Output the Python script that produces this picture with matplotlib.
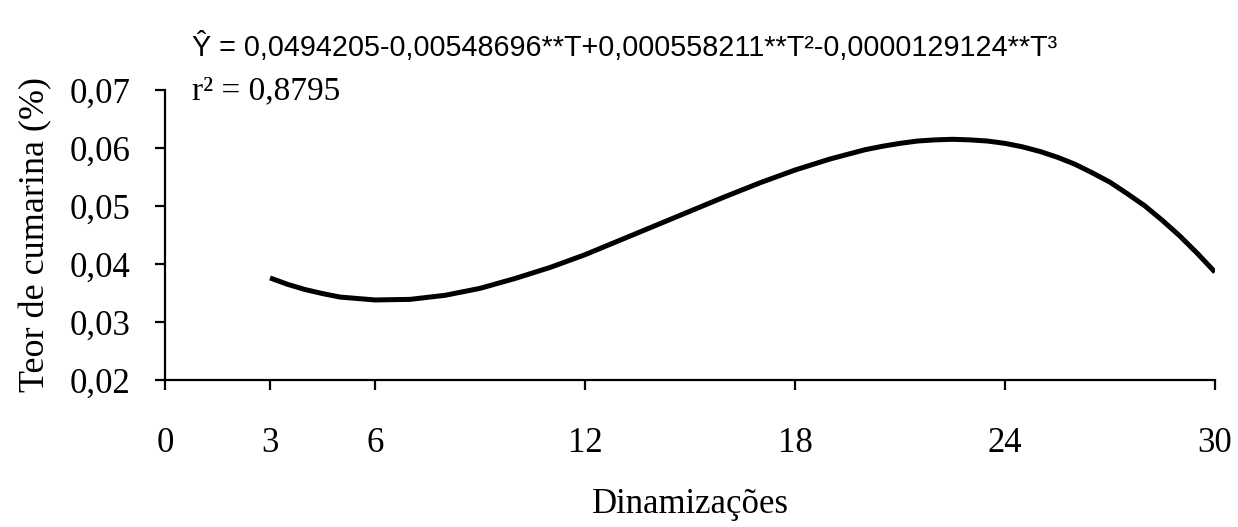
import matplotlib
matplotlib.use("Agg")
import matplotlib.pyplot as plt

# values (dinamizations vs coumarin content)
dinamizacoes = [3, 3.5, 4, 4.5, 5, 6, 7, 8, 9, 10, 11, 12, 13, 14, 15, 16,
                17, 18, 19, 20, 20.5, 21, 21.5, 22, 22.5, 23, 23.5, 24,
                24.5, 25, 25.5, 26, 26.5, 27, 27.5, 28, 28.5, 29, 29.5, 30]
teor_cumarina = [0.0376, 0.0365, 0.0356, 0.0349, 0.0343, 0.0338, 0.0339,
                 0.0346, 0.0358, 0.0375, 0.0394, 0.0416, 0.0441, 0.0466,
                 0.0491, 0.0516, 0.0540, 0.0562, 0.0581, 0.0597, 0.0603,
                 0.0608, 0.0612, 0.0614, 0.0615, 0.0614, 0.0612, 0.0608,
                 0.0602, 0.0594, 0.0584, 0.0572, 0.0557, 0.0541, 0.0521,
                 0.0500, 0.0475, 0.0448, 0.0418, 0.0386]

x_ticks = [0, 3, 6, 12, 18, 24, 30]
y_ticks = [0.02, 0.03, 0.04, 0.05, 0.06, 0.07]
y_tick_labels = ["0,02", "0,03", "0,04", "0,05", "0,06", "0,07"]

equation = "Ŷ = 0,0494205-0,00548696**T+0,000558211**T²-0,0000129124**T³"
r2_text = "r² = 0,8795"

serif = "Liberation Serif"

fig = plt.figure(figsize=(12.38, 5.27), dpi=100)
ax = fig.add_axes([165 / 1238, 147 / 527, 1050 / 1238, 290 / 527])

ax.plot(dinamizacoes, teor_cumarina, color="black", linewidth=3.6,
        solid_capstyle="butt")

ax.set_xlim(0, 30)
ax.set_ylim(0.02, 0.07)
ax.set_xticks(x_ticks)
ax.set_xticklabels([str(t) for t in x_ticks])
ax.set_yticks(y_ticks)
ax.set_yticklabels(y_tick_labels)

for side in ["top", "right"]:
    ax.spines[side].set_visible(False)
for side in ["left", "bottom"]:
    ax.spines[side].set_linewidth(1.6)

ax.tick_params(axis="both", direction="out", length=7, width=1.6,
               labelsize=25)
ax.tick_params(axis="x", pad=27)
ax.tick_params(axis="y", pad=18)
for lbl in ax.get_xticklabels() + ax.get_yticklabels():
    lbl.set_family(serif)

ax.set_xlabel("Dinamizações", family=serif, fontsize=25, labelpad=20)
ax.set_ylabel("Teor de cumarina (%)", family=serif, fontsize=26, labelpad=12)

fig.text(192 / 1238, 1 - 47 / 527, equation, family="Liberation Sans",
         fontsize=20.7, va="center", ha="left")
fig.text(192 / 1238, 1 - 91 / 527, r2_text, family=serif, fontsize=24,
         va="center", ha="left")

fig.savefig("out.png", dpi=100)
